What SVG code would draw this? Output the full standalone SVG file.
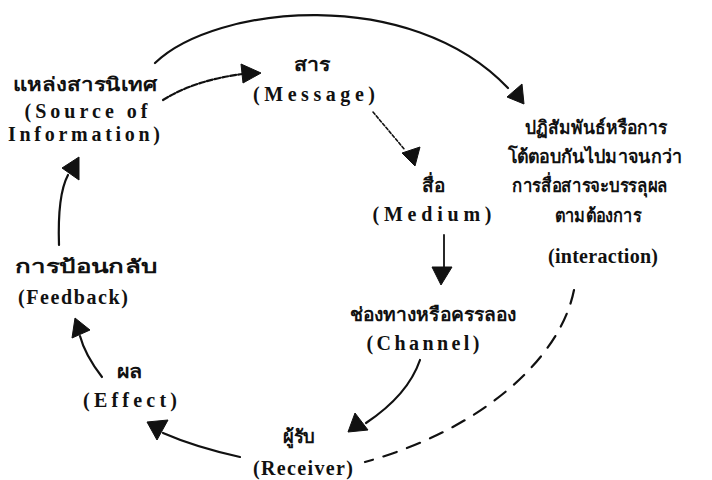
<svg xmlns="http://www.w3.org/2000/svg" width="712" height="480" viewBox="0 0 712 480">
<style>
.th{font-family:"Noto Sans","DejaVu Sans",sans-serif;font-weight:bold;font-size:19px;fill:#111;text-anchor:middle}
.en{font-family:"Liberation Serif","Times New Roman",serif;font-weight:bold;font-size:20px;fill:#111;text-anchor:middle}
.ln{fill:none;stroke:#111;stroke-width:2.2;stroke-linecap:round}
.dash{stroke-dasharray:14 11}
.dot{stroke-dasharray:3 2;stroke-width:1.6}
.brk{stroke-dasharray:6 2}
.ah{fill:#111;stroke:#111;stroke-width:1;stroke-linejoin:round}
</style>
<rect width="712" height="480" fill="#fff"/>
<g id="connectors">
<path class="ln" d="M155,63 C215,5 410,-15 508,88"/>
<polygon class="ah" points="507,97 522,84 524,104"/>
<path class="ln brk" d="M163,100 Q195,80 243,74"/>
<polygon class="ah" points="241,64 261,73 243,83"/>
<path class="ln dot" d="M373,112 L405,150"/>
<polygon class="ah" points="402,153 420,147 415,166"/>
<path class="ln" style="stroke-width:1.8" d="M444,235 L444,268"/>
<polygon class="ah" points="432,267 452,267 441,285"/>
<path class="ln" d="M420,360 Q408,395 366,423"/>
<polygon class="ah" points="348,432 355,413 368,430"/>
<path class="ln dash" d="M574,290 C560,360 480,430 365,462"/>
<path class="ln" d="M240,457 Q195,447 163,433"/>
<polygon class="ah" points="147,422 168,420 157,440"/>
<path class="ln" d="M102,377 Q85,355 80,336"/>
<polygon class="ah" points="72,338 75,318 90,330"/>
<path class="ln" d="M59,245 C58,215 60,190 68,175"/>
<polygon class="ah" points="62,168 79,157 79,180"/>
</g>
<g id="source">
<text class="th" x="85" y="91" textLength="144" lengthAdjust="spacingAndGlyphs">แหล่งสารนิเทศ</text>
<text class="en" x="86" y="118" textLength="123" lengthAdjust="spacing">(Source of</text>
<text class="en" x="84" y="141" textLength="152" lengthAdjust="spacing">Information)</text>
</g>
<g id="message">
<text class="th" x="312" y="71" textLength="37" lengthAdjust="spacingAndGlyphs">สาร</text>
<text class="en" x="314" y="101" textLength="122" lengthAdjust="spacing">(Message)</text>
</g>
<g id="medium">
<text class="th" x="433" y="192" textLength="23" lengthAdjust="spacingAndGlyphs">สื่อ</text>
<text class="en" x="432" y="221" textLength="119" lengthAdjust="spacing">(Medium)</text>
</g>
<g id="channel">
<text class="th" x="433" y="321" textLength="167" lengthAdjust="spacingAndGlyphs">ช่องทางหรือครรลอง</text>
<text class="en" x="423" y="350" textLength="113" lengthAdjust="spacing">(Channel)</text>
</g>
<g id="interaction">
<text class="th" x="596" y="134" textLength="142" lengthAdjust="spacingAndGlyphs">ปฏิสัมพันธ์หรือการ</text>
<text class="th" x="595" y="163" textLength="175" lengthAdjust="spacingAndGlyphs">โต้ตอบกันไปมาจนกว่า</text>
<text class="th" x="590" y="192" textLength="156" lengthAdjust="spacingAndGlyphs">การสื่อสารจะบรรลุผล</text>
<text class="th" x="598" y="222" textLength="87" lengthAdjust="spacingAndGlyphs">ตามต้องการ</text>
<text class="en" x="603" y="263" textLength="110" lengthAdjust="spacing">(interaction)</text>
</g>
<g id="receiver">
<text class="th" x="299" y="443" textLength="32" lengthAdjust="spacingAndGlyphs">ผู้รับ</text>
<text class="en" x="303" y="475" textLength="100" lengthAdjust="spacing">(Receiver)</text>
</g>
<g id="effect">
<text class="th" x="130" y="378" textLength="26" lengthAdjust="spacingAndGlyphs">ผล</text>
<text class="en" x="130" y="407" textLength="94" lengthAdjust="spacing">(Effect)</text>
</g>
<g id="feedback">
<text class="th" x="86" y="273" textLength="143" lengthAdjust="spacingAndGlyphs">การป้อนกลับ</text>
<text class="en" x="73" y="304" textLength="110" lengthAdjust="spacing">(Feedback)</text>
</g>
</svg>
